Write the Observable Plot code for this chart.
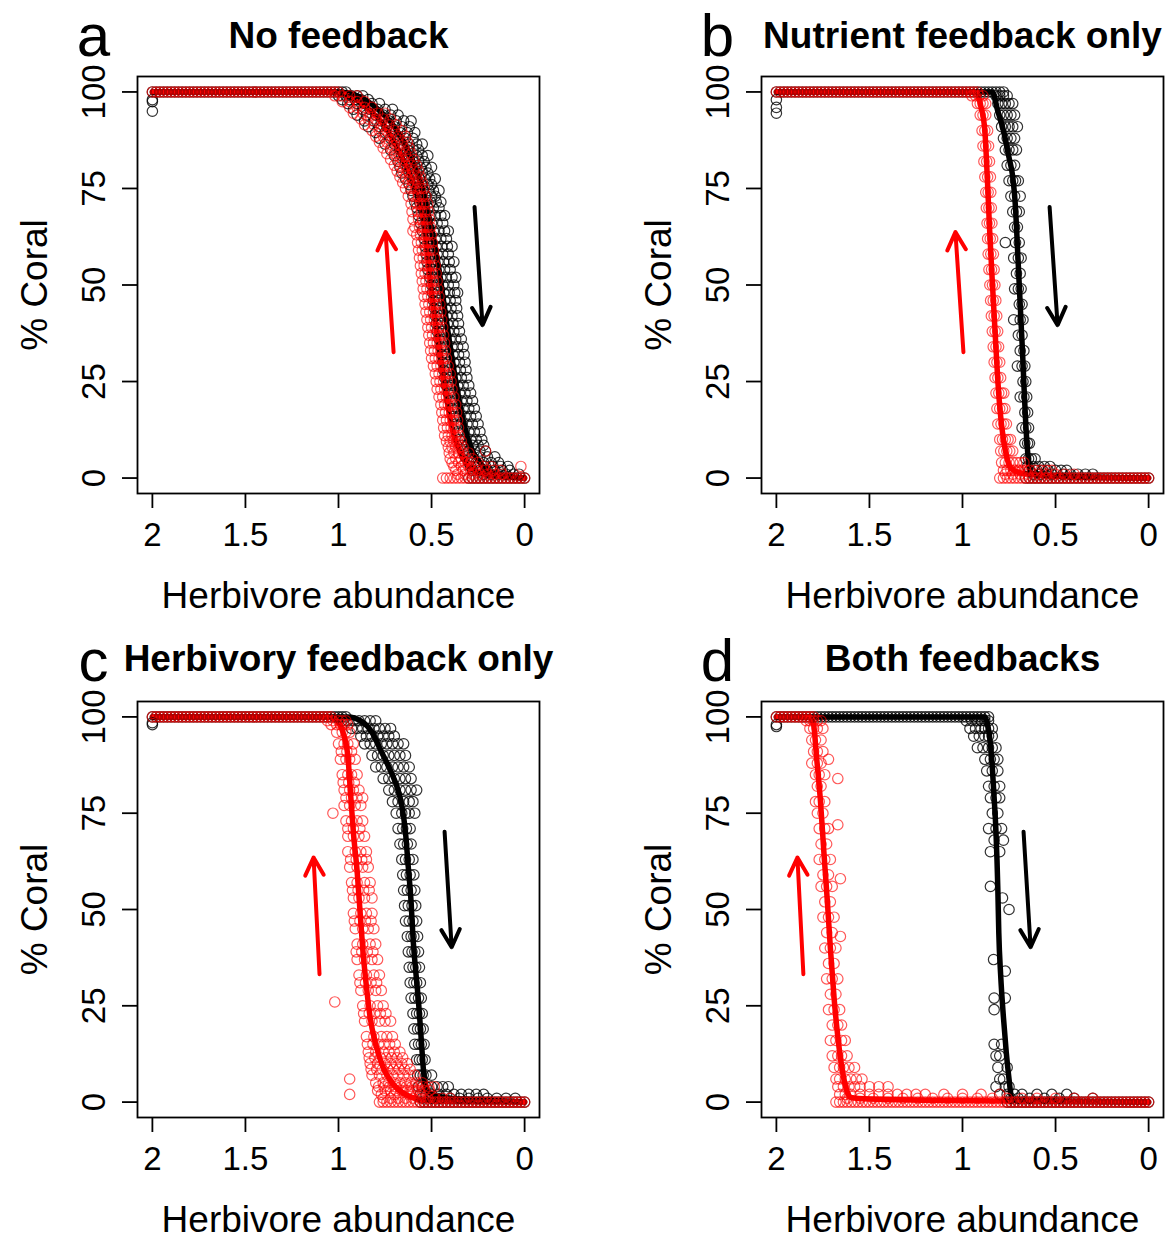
<!DOCTYPE html>
<html><head><meta charset="utf-8">
<script src="https://cdn.jsdelivr.net/npm/d3@7"></script>
<script src="https://cdn.jsdelivr.net/npm/@observablehq/plot@0.6"></script>
<style>
html,body{margin:0;padding:0;background:#fff;width:1167px;height:1238px;overflow:hidden;}
.panel{position:absolute;}
.panel svg{display:block;overflow:visible;}
</style></head><body>
<div id="pa" class="panel" style="left:0px;top:0px"></div>
<div id="pb" class="panel" style="left:583px;top:0px"></div>
<div id="pc" class="panel" style="left:0px;top:620px"></div>
<div id="pd" class="panel" style="left:583px;top:620px"></div>
<script>
// ---------- shared labels and ticks ----------
const xTicks = [2, 1.5, 1, 0.5, 0];
const yTicks = [0, 25, 50, 75, 100];
const panelLetters = ["a", "b", "c", "d"];
const panelTitles = ["No feedback", "Nutrient feedback only", "Herbivory feedback only", "Both feedbacks"];
const xLabel = "Herbivore abundance";
const yLabel = "% Coral";

// herbivore abundance grid used by the simulations (plateau rows at 100 % and 0 %)
const xGrid = [2,1.98,1.96,1.94,1.92,1.9,1.88,1.86,1.84,1.82,1.8,1.78,1.76,1.74,1.72,1.7,1.68,1.66,1.64,1.62,1.6,1.58,1.56,1.54,1.52,1.5,1.48,1.46,1.44,1.42,1.4,1.38,1.36,1.34,1.32,1.3,1.28,1.26,1.24,1.22,1.2,1.18,1.16,1.14,1.12,1.1,1.08,1.06,1.04,1.02,1,0.98,0.96,0.94,0.92,0.9,0.88,0.86,0.84,0.82,0.8,0.78,0.76,0.74,0.72,0.7,0.68,0.66,0.64,0.62,0.6,0.58,0.56,0.54,0.52,0.5,0.48,0.46,0.44,0.42,0.4,0.38,0.36,0.34,0.32,0.3,0.28,0.26,0.24,0.22,0.2,0.18,0.16,0.14,0.12,0.1,0.08,0.06,0.04,0.02,0];

// plateau extents: [coral = 100 % for x >= top, coral = 0 % for x <= zero]
const aBlackPlateau = [0.96, 0.3],  aRedPlateau = [1.0, 0.44];
const bBlackPlateau = [0.78, 0.66], bRedPlateau = [0.92, 0.8];
const cBlackPlateau = [0.96, 0.56], cRedPlateau = [1.04, 0.78];
const dBlackPlateau = [0.86, 0.76], dRedPlateau = [1.8, 1.68];

// ---------- panel a: no feedback ----------
const aBlackCloud = [[98,[2]],[97.5,[2]],[95,[2]],
 [99,[1.0,0.96,0.93,0.9,0.87]],[97,[0.95,0.9,0.86,0.82,0.78]],[94,[0.9,0.85,0.8,0.76,0.72,0.68]],
 [91,[0.84,0.78,0.74,0.7,0.66,0.62]],[88,[0.78,0.72,0.68,0.64,0.6]],[85,[0.72,0.67,0.63,0.6,0.57]],
 [82,[0.68,0.64,0.6,0.57,0.54]],[79,[0.66,0.62,0.58,0.55,0.52]],[76,[0.62,0.58,0.55,0.52,0.5]],
 [73,[0.6,0.56,0.53,0.5,0.48]],[70,[0.58,0.55,0.52,0.49,0.46]],[66,[0.56,0.53,0.5,0.47,0.44]],
 [62,[0.54,0.51,0.48,0.45,0.42]],[58,[0.53,0.5,0.47,0.44,0.41]],[54,[0.52,0.49,0.46,0.43,0.4]],
 [50,[0.5,0.47,0.44,0.41,0.38]],[46,[0.49,0.46,0.43,0.4,0.37]],[42,[0.48,0.45,0.42,0.39,0.36]],
 [38,[0.47,0.44,0.41,0.38,0.35]],[34,[0.45,0.42,0.39,0.36,0.33]],[30,[0.44,0.41,0.38,0.35,0.32]],
 [26,[0.43,0.4,0.37,0.34,0.31]],[22,[0.41,0.38,0.35,0.32,0.29]],[18,[0.39,0.36,0.33,0.3,0.27]],
 [14,[0.37,0.34,0.31,0.28,0.25]],[10,[0.35,0.32,0.29,0.26,0.23]],[7,[0.33,0.3,0.27,0.24,0.21]],
 [4,[0.3,0.26,0.22,0.18,0.14]],[2,[0.28,0.24,0.2,0.16,0.12,0.08]],[1,[0.22,0.18,0.14,0.1,0.06,0.03]],
 [98,[0.98,0.94,0.91,0.88,0.84]],[95.5,[0.92,0.87,0.83,0.79,0.75,0.71]],[92.5,[0.86,0.81,0.77,0.73,0.69,0.65,0.61]],
 [89.5,[0.8,0.75,0.71,0.67,0.63,0.59]],[86.5,[0.75,0.7,0.66,0.62,0.58,0.55]],[83.5,[0.7,0.66,0.62,0.58,0.55,0.52]],
 [80.5,[0.67,0.63,0.59,0.56,0.53,0.5]],[77.5,[0.64,0.6,0.565,0.535,0.51,0.48]],[74.5,[0.61,0.575,0.545,0.515,0.49,0.46]],
 [71.5,[0.59,0.565,0.535,0.505,0.475,0.45]],[68,[0.57,0.54,0.51,0.48,0.45,0.43]],[64,[0.55,0.52,0.49,0.46,0.43,0.41]],
 [60,[0.535,0.505,0.475,0.445,0.415,0.39]],[56,[0.525,0.495,0.465,0.435,0.405,0.38]],[52,[0.51,0.48,0.45,0.42,0.39,0.37]],
 [48,[0.495,0.465,0.435,0.405,0.375,0.36]],[44,[0.485,0.455,0.425,0.395,0.365]],[40,[0.475,0.445,0.415,0.385,0.355]],
 [36,[0.46,0.43,0.4,0.37,0.34]],[32,[0.445,0.415,0.385,0.355,0.325]],[28,[0.435,0.405,0.375,0.345,0.315]],
 [24,[0.42,0.39,0.36,0.33,0.3]],[20,[0.4,0.37,0.34,0.31,0.28]],[16,[0.38,0.35,0.32,0.29,0.26]],
 [12,[0.36,0.33,0.3,0.27,0.24]],[8.5,[0.34,0.31,0.28,0.25,0.22]],[5.5,[0.32,0.28,0.24,0.2,0.16]],
 [3,[0.29,0.25,0.21,0.17,0.13,0.09]]];
const aRedCloud = [
 [99,[1.02,0.98,0.94,0.9]],[96,[0.94,0.9,0.86,0.82]],[93,[0.88,0.84,0.8,0.76,0.72]],
 [90,[0.82,0.78,0.74,0.7,0.66]],[87,[0.78,0.74,0.7,0.66,0.63]],[84,[0.74,0.7,0.67,0.64,0.61]],
 [81,[0.7,0.67,0.64,0.61,0.58]],[78,[0.67,0.64,0.61,0.58,0.56]],[75,[0.64,0.61,0.58,0.56,0.54]],
 [71,[0.61,0.58,0.56,0.54,0.52]],[67,[0.6,0.57,0.55,0.53,0.51]],[64,[0.6]],[63,[0.58,0.56,0.54,0.52,0.5]],
 [59,[0.57,0.55,0.53,0.51,0.49]],[55,[0.56,0.54,0.52,0.5,0.48]],[51,[0.55,0.53,0.51,0.49,0.47]],
 [47,[0.54,0.52,0.5,0.48,0.46]],[43,[0.53,0.51,0.49,0.47,0.45]],[39,[0.52,0.5,0.48,0.46,0.44]],
 [35,[0.51,0.49,0.47,0.45,0.43]],[31,[0.5,0.48,0.46,0.44,0.42]],[27,[0.48,0.46,0.44,0.42,0.4]],
 [23,[0.47,0.45,0.43,0.41,0.39]],[19,[0.45,0.43,0.41,0.39,0.37]],[15,[0.44,0.42,0.4,0.38,0.36]],
 [11,[0.43,0.41,0.39,0.37,0.35]],[8,[0.41,0.39,0.37,0.35,0.33]],[7,[0.21]],[5,[0.4,0.37,0.34,0.31,0.28]],
 [3,[0.38,0.34,0.3,0.26,0.22,0.18,0.02]],[1,[0.36,0.32,0.28,0.24,0.2,0.16,0.12]],
 [97.5,[0.98,0.94,0.9,0.86]],[94.5,[0.92,0.87,0.83,0.79,0.75]],[91.5,[0.86,0.81,0.77,0.73,0.69]],
 [88.5,[0.8,0.76,0.72,0.68,0.64]],[85.5,[0.76,0.72,0.685,0.65,0.62]],[82.5,[0.72,0.685,0.655,0.625,0.595]],
 [79.5,[0.685,0.655,0.625,0.595,0.57]],[76.5,[0.655,0.625,0.595,0.57,0.55]],[73,[0.625,0.595,0.57,0.55,0.53]],
 [69,[0.605,0.575,0.555,0.535,0.515]],[65,[0.59,0.565,0.545,0.525,0.505]],[61,[0.575,0.555,0.535,0.515,0.495]],
 [57,[0.565,0.545,0.525,0.505,0.485]],[53,[0.555,0.535,0.515,0.495,0.475]],[49,[0.545,0.525,0.505,0.485,0.465]],
 [45,[0.535,0.515,0.495,0.475,0.455]],[41,[0.525,0.505,0.485,0.465,0.445]],[37,[0.515,0.495,0.475,0.455,0.435]],
 [33,[0.505,0.485,0.465,0.445,0.425]],[29,[0.49,0.47,0.45,0.43,0.41]],[25,[0.475,0.455,0.435,0.415,0.395]],
 [21,[0.46,0.44,0.42,0.4,0.38]],[17,[0.445,0.425,0.405,0.385,0.365]],[13,[0.435,0.415,0.395,0.375,0.355]],
 [9.5,[0.42,0.4,0.38,0.36,0.34]],[6.5,[0.405,0.38,0.355,0.33,0.3]],[4,[0.39,0.355,0.32,0.285,0.25]],
 [2,[0.37,0.33,0.29,0.25,0.21,0.17,0.13]]];
const aBlackLine = [[2,100],[1.0,100],[0.9,99],[0.8,96],[0.7,91],[0.65,87],[0.6,82],[0.55,75],[0.52,69],[0.49,62],[0.46,54],[0.43,44],[0.4,34],[0.37,25],[0.34,17],[0.31,11],[0.28,7],[0.24,4],[0.2,2],[0.15,1],[0.1,0.5],[0,0]];
const aRedLine = [[2,100],[1.05,100],[0.95,99],[0.85,96],[0.75,91],[0.68,85],[0.62,79],[0.57,72],[0.54,66],[0.52,57],[0.5,48],[0.47,37],[0.44,27],[0.41,18],[0.38,11],[0.34,6],[0.3,3],[0.25,1.5],[0.2,0.8],[0.1,0.3],[0,0]];
const aRedArrow = [0.704, 32.6, 0.747, 63.7];
const aBlackArrow = [0.269, 70.2, 0.226, 39.6];

// ---------- panel b: nutrient feedback only ----------
const bBlackCloud = [[98,[2]],[96,[2]],[94.5,[2]],
 [99,[0.82,0.8,0.78,0.76]],[97,[0.81,0.79,0.77,0.75,0.73]],[94,[0.8,0.78,0.76,0.74,0.72]],
 [91,[0.79,0.77,0.75,0.73,0.705]],[88,[0.78,0.76,0.74,0.72]],[85,[0.77,0.75,0.73,0.71]],
 [81,[0.76,0.74,0.72]],[77,[0.75,0.73,0.715,0.7]],[73,[0.74,0.72,0.69]],[69,[0.73,0.71,0.695]],
 [65,[0.72,0.705]],[61,[0.77,0.715,0.695]],[57,[0.725,0.7,0.685]],[53,[0.71,0.69]],
 [49,[0.72,0.7,0.685]],[45,[0.695,0.68]],[41,[0.725,0.69,0.675]],[37,[0.7,0.68]],[33,[0.69,0.67]],
 [29,[0.705,0.68,0.665]],[25,[0.675,0.66]],[21,[0.69,0.67,0.655]],[17,[0.665,0.65]],
 [13,[0.68,0.66,0.645]],[9,[0.665,0.65,0.64]],[5,[0.66,0.645,0.63,0.61]],
 [3,[0.65,0.62,0.59,0.56,0.53]],[2,[0.64,0.6,0.57,0.54,0.5,0.47,0.44]],[1,[0.62,0.58,0.52,0.46,0.42,0.38,0.34,0.3]]];
const bRedCloud = [
 [99,[0.95,0.93,0.91,0.89]],[97,[0.92,0.905,0.89,0.875]],[94,[0.905,0.89,0.875]],[90,[0.895,0.88,0.865]],
 [86,[0.89,0.875,0.86]],[82,[0.885,0.87,0.855]],[78,[0.88,0.865,0.85]],[74,[0.875,0.862,0.848]],
 [70,[0.872,0.858,0.845]],[66,[0.868,0.855,0.842]],[62,[0.865,0.851,0.838]],[58,[0.862,0.848,0.834]],
 [54,[0.858,0.844,0.83]],[50,[0.853,0.839,0.826]],[46,[0.849,0.835,0.821]],[42,[0.845,0.83,0.816]],
 [38,[0.84,0.825,0.811]],[34,[0.835,0.82,0.806]],[30,[0.83,0.815,0.8]],[26,[0.825,0.81,0.795]],
 [22,[0.82,0.805,0.79,0.778]],[18,[0.815,0.8,0.785,0.772]],[14,[0.81,0.793,0.778,0.764]],
 [10,[0.8,0.785,0.77,0.755,0.742]],[7,[0.795,0.778,0.762,0.746,0.73]],[4,[0.79,0.77,0.75,0.73,0.71,0.69,0.67]],
 [2,[0.78,0.76,0.74,0.72,0.7,0.68,0.66,0.64,0.61,0.58,0.55,0.52]],[1,[0.77,0.73,0.69,0.65,0.6,0.55,0.5,0.45,0.4]]];
const bBlackLine = [[2,100],[0.84,100],[0.81,95],[0.78,90],[0.75,83],[0.73,78],[0.715,70],[0.705,60],[0.695,50],[0.685,40],[0.675,30],[0.668,22],[0.66,14],[0.652,8],[0.642,3],[0.63,1.2],[0.6,0.8],[0.4,0.4],[0,0]];
const bRedLine = [[2,100],[0.93,100],[0.9,96],[0.88,90],[0.866,77],[0.855,65],[0.84,51],[0.825,38],[0.81,25],[0.795,16],[0.78,10],[0.76,5],[0.74,2.5],[0.7,1.5],[0.6,0.8],[0.4,0.3],[0,0]];
const bRedArrow = [0.995, 32.6, 1.038, 63.7];
const bBlackArrow = [0.532, 70.2, 0.489, 39.6];

// ---------- panel c: herbivory feedback only ----------
const cBlackCloud = [[98.5,[2]],[98,[2]],
 [99,[0.98,0.95,0.92,0.89,0.86,0.83,0.8]],[97,[0.93,0.9,0.87,0.84,0.81,0.78,0.75,0.72]],
 [95,[0.88,0.85,0.82,0.79,0.76,0.73,0.7]],[93,[0.86,0.83,0.8,0.77,0.74,0.71,0.68,0.65]],
 [90,[0.82,0.79,0.76,0.73,0.7,0.67,0.64]],[87,[0.8,0.77,0.74,0.71,0.68,0.65,0.62]],
 [84,[0.76,0.73,0.7,0.67,0.64,0.61]],[81,[0.73,0.7,0.67,0.64,0.61,0.58]],[78,[0.71,0.68,0.65,0.62,0.6]],
 [75,[0.69,0.66,0.64,0.62,0.59]],[71,[0.68,0.655,0.635,0.615]],[67,[0.67,0.65,0.63,0.61]],
 [63,[0.66,0.64,0.62,0.6]],[59,[0.655,0.635,0.615,0.595]],[55,[0.65,0.63,0.61,0.59]],
 [51,[0.645,0.625,0.605,0.585]],[47,[0.64,0.62,0.6,0.58]],[43,[0.63,0.61,0.595,0.575]],
 [39,[0.625,0.605,0.59,0.57]],[35,[0.62,0.6,0.585,0.565]],[31,[0.615,0.595,0.58,0.56]],
 [27,[0.61,0.59,0.57,0.555]],[23,[0.6,0.58,0.565,0.55]],[19,[0.595,0.575,0.56,0.545]],
 [15,[0.59,0.57,0.555,0.54]],[11,[0.58,0.565,0.55,0.535]],[7,[0.575,0.56,0.545,0.53,0.5]],
 [4,[0.57,0.55,0.53,0.5,0.47,0.44,0.41]],[2,[0.56,0.53,0.5,0.46,0.42,0.38,0.34,0.3,0.26,0.22]],
 [1,[0.55,0.5,0.45,0.4,0.35,0.3,0.25,0.2,0.15,0.1,0.05]]];
const cRedCloud = [
 [99,[1.06,1.03,1.0,0.98,0.96]],[96,[1.01,0.98,0.96,0.94]],[93,[1.0,0.97,0.95,0.92]],
 [89,[0.99,0.96,0.94,0.91]],[85,[0.98,0.95,0.93,0.9]],[81,[0.97,0.94,0.92,0.89]],
 [77,[0.97,0.94,0.91,0.88]],[75,[1.03]],[73,[0.96,0.93,0.9,0.87]],[69,[0.95,0.92,0.89,0.86]],
 [65,[0.95,0.91,0.88,0.85]],[61,[0.94,0.9,0.87,0.84]],[57,[0.93,0.9,0.86,0.83]],
 [53,[0.92,0.89,0.86,0.82]],[49,[0.92,0.88,0.85,0.82]],[45,[0.91,0.87,0.84,0.81]],
 [41,[0.9,0.87,0.83,0.8]],[37,[0.9,0.86,0.82,0.79]],[33,[0.89,0.85,0.81,0.78]],
 [29,[0.88,0.84,0.8,0.77]],[26,[1.02]],[25,[0.87,0.83,0.79,0.76]],[21,[0.86,0.82,0.78,0.75,0.72]],
 [17,[0.85,0.81,0.77,0.74,0.71]],[13,[0.84,0.8,0.76,0.73,0.7,0.67]],[10,[0.83,0.79,0.75,0.72,0.69,0.66,0.63]],
 [7,[0.82,0.78,0.74,0.71,0.68,0.65,0.62,0.59]],[6,[0.94]],[5,[0.8,0.76,0.73,0.7,0.67,0.64,0.61,0.58,0.55]],
 [3,[0.79,0.75,0.72,0.69,0.66,0.63,0.6,0.57,0.54,0.51]],[2,[0.94,0.77,0.7,0.62,0.56]],
 [1,[0.76,0.72,0.68,0.64,0.6,0.56,0.52,0.48,0.44,0.4]],
 [98,[1.04,1.01,0.99,0.97,0.95]],[91,[0.985,0.955,0.93]],[83,[0.975,0.945,0.915]],
 [79,[0.96,0.93,0.9,0.87]],[71,[0.95,0.92,0.885]],[63,[0.935,0.905,0.875,0.85]],
 [55,[0.925,0.895,0.865,0.835]],[47,[0.915,0.885,0.855,0.825]],[39,[0.905,0.875,0.845,0.815]],
 [31,[0.885,0.855,0.825,0.795]],[23,[0.865,0.835,0.805,0.775,0.745]],[15,[0.845,0.815,0.785,0.755,0.725,0.695]],
 [11.5,[0.835,0.805,0.775,0.745,0.715,0.685,0.655]],[8.5,[0.825,0.795,0.765,0.735,0.705,0.675,0.645,0.615]],
 [4,[0.785,0.755,0.725,0.695,0.665,0.635,0.605,0.575,0.545,0.515,0.485]]];
const cBlackLine = [[2,100],[0.95,100],[0.88,99],[0.82,96],[0.77,91],[0.72,86],[0.68,81],[0.66,77],[0.64,70],[0.625,61],[0.61,52],[0.6,43],[0.585,34],[0.57,26],[0.555,16],[0.543,8],[0.53,4],[0.5,2],[0.4,1],[0.2,0.5],[0,0]];
const cRedLine = [[2,100],[1.05,100],[1.0,98.5],[0.97,95],[0.95,90],[0.935,80],[0.92,70],[0.9,60],[0.885,50],[0.87,40],[0.85,30],[0.83,22],[0.8,15],[0.76,9],[0.72,5.5],[0.68,3.3],[0.62,1.5],[0.55,0.5],[0.4,0.2],[0,0]];
const cRedArrow = [1.102, 33.2, 1.134, 63.5];
const cBlackArrow = [0.43, 70.2, 0.392, 40.2];

// ---------- panel d: both feedbacks ----------
const dBlackCloud = [[98,[2]],[97.5,[2]],
 [99,[0.98,0.95,0.92,0.9,0.88,0.86]],[97,[0.96,0.93,0.9,0.88,0.86,0.84]],[95,[0.94,0.91,0.88,0.86,0.84]],
 [92,[0.92,0.89,0.86,0.84,0.82]],[89,[0.88,0.85,0.83,0.81]],[86,[0.87,0.84,0.81]],[82,[0.86,0.83,0.8]],
 [79,[0.85,0.82,0.8]],[75,[0.84,0.81]],[71,[0.86,0.82,0.79]],[68,[0.83,0.78]],[65,[0.85,0.8]],
 [56,[0.85]],[53,[0.785]],[50,[0.75]],[37,[0.833]],[34,[0.77]],[27,[0.83,0.77]],[24,[0.83]],
 [15,[0.83,0.79]],[12,[0.82,0.8]],[9,[0.81,0.76]],[6,[0.8,0.78]],[4,[0.82,0.77,0.75]],
 [2,[0.8,0.76,0.72,0.68,0.6,0.52,0.44]],[1,[0.74,0.7,0.64,0.56,0.48,0.4,0.3]]];
const dRedCloud = [
 [99,[1.84,1.82,1.8,1.78,1.76]],[97,[1.82,1.8,1.78,1.75]],[94,[1.81,1.79,1.76]],[91,[1.8,1.78,1.75]],
 [89,[1.72]],[88,[1.81,1.78,1.76]],[85,[1.79,1.77,1.74]],[84,[1.67]],[82,[1.78,1.76]],[78,[1.79,1.77,1.74]],
 [75,[1.78,1.75]],[72,[1.67]],[71,[1.77,1.74,1.72]],[67,[1.76,1.73]],[63,[1.77,1.74,1.71]],[59,[1.75,1.72]],
 [58,[1.656]],[56,[1.76,1.73,1.7]],[52,[1.74,1.71]],[48,[1.75,1.72,1.69]],[44,[1.73,1.7]],[43,[1.656]],
 [40,[1.74,1.71,1.68]],[36,[1.72,1.69]],[32,[1.73,1.7,1.67]],[28,[1.71,1.68]],[24,[1.72,1.69,1.66]],
 [20,[1.7,1.67,1.65]],[16,[1.71,1.68,1.65,1.63]],[12,[1.7,1.67,1.65,1.62]],[9,[1.69,1.66,1.64,1.61,1.58]],
 [6,[1.68,1.66,1.63,1.6,1.57,1.54]],[4,[1.67,1.64,1.61,1.58,1.55,1.5,1.45,1.4]],
 [2,[1.66,1.63,1.6,1.55,1.5,1.45,1.4,1.35,1.3,1.25,1.2,1.1,1.0,0.9,0.8]],
 [1,[1.62,1.55,1.48,1.4,1.32,1.24,1.16,1.08,1.0,0.92,0.84,0.76,0.68,0.6,0.5,0.4,0.3]]];
const dBlackLine = [[2,100],[0.88,100],[0.865,98],[0.85,93],[0.84,87],[0.83,79],[0.82,70],[0.81,55],[0.805,44],[0.795,33],[0.78,22],[0.765,13],[0.75,6],[0.74,2],[0.73,0.5],[0.5,0.3],[0,0]];
const dRedLine = [[2,100],[1.82,100],[1.8,98],[1.785,90],[1.763,78],[1.745,65],[1.726,52],[1.71,40],[1.69,27],[1.67,17],[1.645,8],[1.625,3.5],[1.6,1.2],[1.5,0.8],[1.2,0.5],[0.8,0.3],[0,0]];
const dRedArrow = [1.855, 33.2, 1.887, 63.5];
const dBlackArrow = [0.672, 70.2, 0.634, 40.2];

// ---------- drawing ----------
const FONT = "'Liberation Sans', Arial, Helvetica, sans-serif";

function seriesPoints(plateau, cloud) {
  const [topFrom, zeroTo] = plateau;
  return [
    ...xGrid.filter(x => x >= topFrom).map(x => ({x, y: 100})),
    ...xGrid.filter(x => x <= zeroTo).map(x => ({x, y: 0})),
    ...cloud.flatMap(([y, xs]) => xs.map(x => ({x, y})))
  ];
}

function drawPanel(el, i, geom, s) {
  const black = seriesPoints(s.blackPlateau, s.blackCloud);
  const red = seriesPoints(s.redPlateau, s.redCloud);
  const asc = arr => arr.slice().reverse(); // ascending x for the monotone curve
  const chart = Plot.plot({
    width: geom.w, height: geom.h,
    marginLeft: geom.ml, marginRight: geom.mr, marginTop: geom.mt, marginBottom: geom.mb,
    x: {domain: [2.08, -0.08]},
    y: {domain: [-4, 104]},
    style: {fontFamily: FONT, background: "white", color: "black", overflow: "visible"},
    marks: [
      Plot.line(asc(s.blackLine), {x: d => d[0], y: d => d[1], stroke: "black", strokeWidth: 5.5, curve: "monotone-x"}),
      Plot.line(asc(s.redLine), {x: d => d[0], y: d => d[1], stroke: "#ff0000", strokeWidth: 5.5, curve: "monotone-x"}),
      Plot.dot(black, {x: "x", y: "y", r: 5.2, stroke: "black", strokeOpacity: 0.8, strokeWidth: 1.2, fill: "none"}),
      Plot.dot(red, {x: "x", y: "y", r: 5.2, stroke: "#ff0000", strokeOpacity: 0.65, strokeWidth: 1.2, fill: "none"}),
      Plot.arrow([s.redArrow], {x1: d => d[0], y1: d => d[1], x2: d => d[2], y2: d => d[3], stroke: "#ff0000", strokeWidth: 4, headLength: 7.5, headAngle: 55}),
      Plot.arrow([s.blackArrow], {x1: d => d[0], y1: d => d[1], x2: d => d[2], y2: d => d[3], stroke: "black", strokeWidth: 4, headLength: 7.5, headAngle: 55}),
      Plot.axisX({ticks: xTicks, tickFormat: d => String(d), tickSize: 15, tickPadding: 14, fontSize: 33, strokeWidth: 1.8, label: null}),
      Plot.axisY({ticks: yTicks, tickFormat: d => String(d), tickSize: 15, tickPadding: 18, tickRotate: -90, fontSize: 33, strokeWidth: 1.8, label: null}),
      Plot.frame({stroke: "black", strokeWidth: 1.8}),
      Plot.text([panelTitles[i]], {text: d => d, frameAnchor: "top", dy: geom.titleDy, lineAnchor: "bottom", fontWeight: "bold", fontSize: 37}),
      Plot.text([panelLetters[i]], {text: d => d, frameAnchor: "top-left", dx: -44, dy: -21, lineAnchor: "bottom", textAnchor: "middle", fontSize: 60}),
      Plot.text([xLabel], {text: d => d, frameAnchor: "bottom", dy: 114, lineAnchor: "bottom", fontSize: 37}),
      Plot.text([yLabel], {text: d => d, frameAnchor: "left", dx: -91, rotate: -90, lineAnchor: "bottom", textAnchor: "middle", fontSize: 37})
    ]
  });
  document.getElementById(el).appendChild(chart);
}

const topLeft = {w: 583, h: 620, ml: 137, mr: 44, mt: 76, mb: 127, titleDy: -29};
const topRight = {w: 584, h: 620, ml: 178, mr: 4, mt: 76, mb: 127, titleDy: -29};
const botLeft = {w: 583, h: 618, ml: 137, mr: 44, mt: 81, mb: 121, titleDy: -31};
const botRight = {w: 584, h: 618, ml: 178, mr: 4, mt: 81, mb: 121, titleDy: -31};

drawPanel("pa", 0, topLeft, {blackPlateau: aBlackPlateau, redPlateau: aRedPlateau, blackCloud: aBlackCloud, redCloud: aRedCloud, blackLine: aBlackLine, redLine: aRedLine, redArrow: aRedArrow, blackArrow: aBlackArrow});
drawPanel("pb", 1, topRight, {blackPlateau: bBlackPlateau, redPlateau: bRedPlateau, blackCloud: bBlackCloud, redCloud: bRedCloud, blackLine: bBlackLine, redLine: bRedLine, redArrow: bRedArrow, blackArrow: bBlackArrow});
drawPanel("pc", 2, botLeft, {blackPlateau: cBlackPlateau, redPlateau: cRedPlateau, blackCloud: cBlackCloud, redCloud: cRedCloud, blackLine: cBlackLine, redLine: cRedLine, redArrow: cRedArrow, blackArrow: cBlackArrow});
drawPanel("pd", 3, botRight, {blackPlateau: dBlackPlateau, redPlateau: dRedPlateau, blackCloud: dBlackCloud, redCloud: dRedCloud, blackLine: dBlackLine, redLine: dRedLine, redArrow: dRedArrow, blackArrow: dBlackArrow});
</script>
</body></html>
